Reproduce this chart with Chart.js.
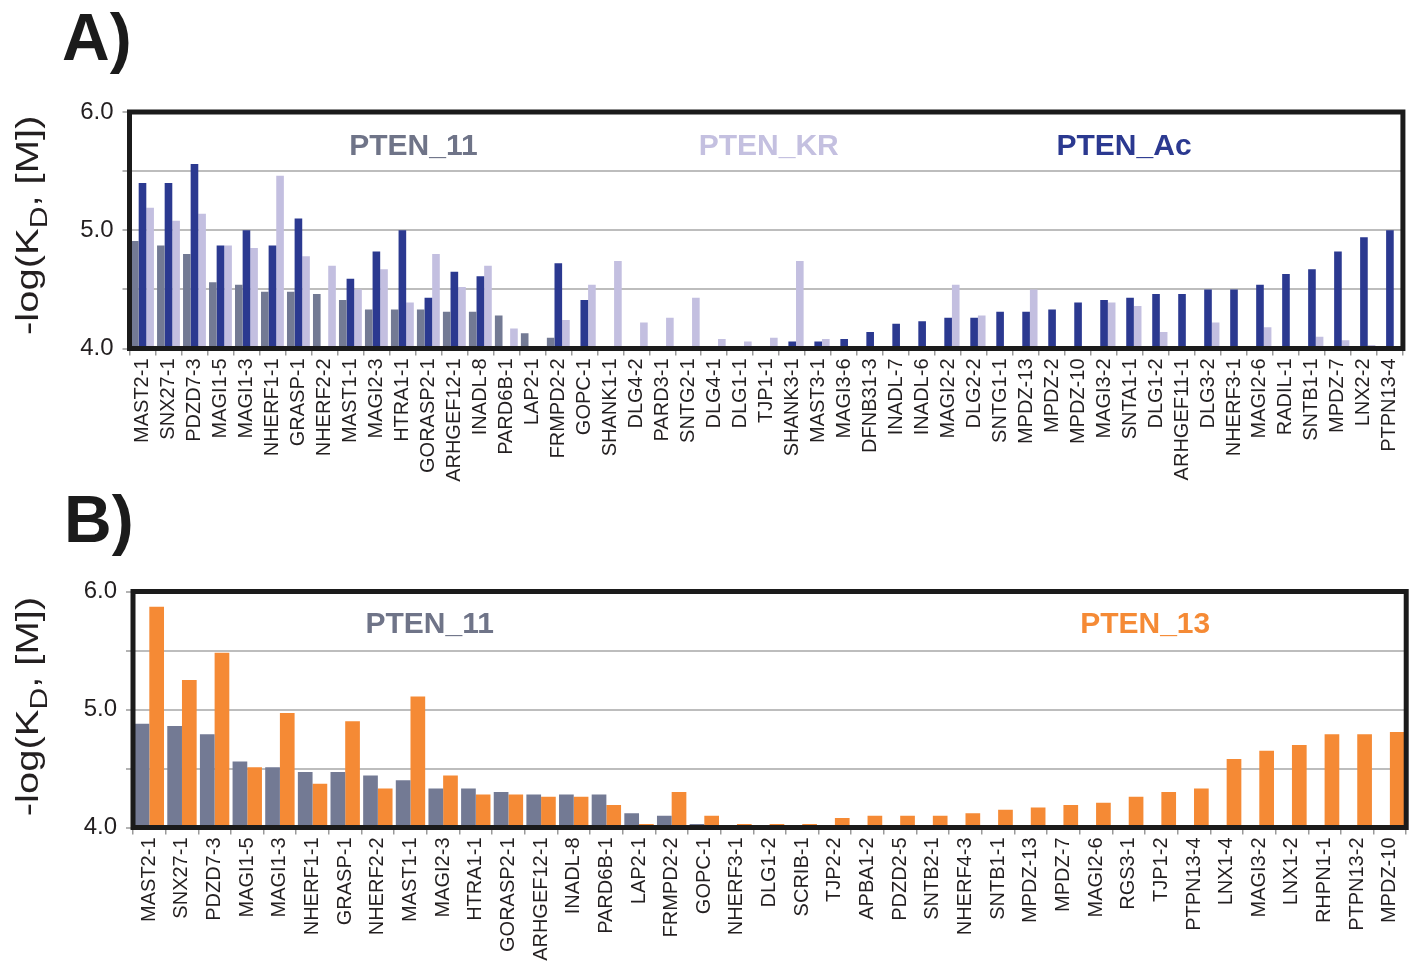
<!DOCTYPE html>
<html><head><meta charset="utf-8">
<script src="https://cdn.jsdelivr.net/npm/chart.js@4.4.1/dist/chart.umd.min.js"></script>
<style>
html,body{margin:0;padding:0;background:#fff;}
#wrap{position:relative;width:1417px;height:968px;overflow:hidden;background:#fff}
canvas{position:absolute;left:0}
</style></head><body>
<div id="wrap">
<canvas id="cA" width="1417" height="490" style="top:0"></canvas>
<canvas id="cB" width="1417" height="478" style="top:490px"></canvas>
</div>
<script>
// ---------- Panel A data ----------
const categoriesA = ['MAST2-1','SNX27-1','PDZD7-3','MAGI1-5','MAGI1-3','NHERF1-1','GRASP-1','NHERF2-2','MAST1-1','MAGI2-3',
  'HTRA1-1','GORASP2-1','ARHGEF12-1','INADL-8','PARD6B-1','LAP2-1','FRMPD2-2','GOPC-1','SHANK1-1','DLG4-2',
  'PARD3-1','SNTG2-1','DLG4-1','DLG1-1','TJP1-1','SHANK3-1','MAST3-1','MAGI3-6','DFNB31-3','INADL-7',
  'INADL-6','MAGI2-2','DLG2-2','SNTG1-1','MPDZ-13','MPDZ-2','MPDZ-10','MAGI3-2','SNTA1-1','DLG1-2',
  'ARHGEF11-1','DLG3-2','NHERF3-1','MAGI2-6','RADIL-1','SNTB1-1','MPDZ-7','LNX2-2','PTPN13-4'];
const pten11A = [4.91,4.87,4.80,4.56,4.54,4.48,4.48,4.46,4.41,4.33,
  4.33,4.33,4.31,4.31,4.28,4.13,4.09,null,null,null,
  null,null,null,null,null,null,null,null,null,null,
  null,null,null,null,null,null,null,null,null,null,
  null,null,null,null,null,null,null,null,null];
const ptenAcA = [5.40,5.40,5.56,4.87,5.00,4.87,5.10,null,4.59,4.82,
  5.00,4.43,4.65,4.61,null,null,4.72,4.41,null,null,
  null,null,null,null,null,4.06,4.06,4.08,4.14,4.21,
  4.23,4.26,4.26,4.31,4.31,4.33,4.39,4.41,4.43,4.46,
  4.46,4.50,4.50,4.54,4.63,4.67,4.82,4.94,5.00];
const ptenKRA = [5.19,5.08,5.14,4.87,4.85,5.46,4.78,4.70,4.50,4.67,
  4.39,4.80,4.52,4.70,4.17,null,4.24,4.54,4.74,4.22,
  4.26,4.43,4.08,4.06,4.09,4.74,4.08,null,null,null,
  null,4.54,4.28,null,4.50,null,null,4.39,4.36,4.14,
  null,4.22,null,4.18,null,4.10,4.07,4.03,null];

// ---------- Panel B data ----------
const categoriesB = ['MAST2-1','SNX27-1','PDZD7-3','MAGI1-5','MAGI1-3','NHERF1-1','GRASP-1','NHERF2-2','MAST1-1','MAGI2-3',
  'HTRA1-1','GORASP2-1','ARHGEF12-1','INADL-8','PARD6B-1','LAP2-1','FRMPD2-2','GOPC-1','NHERF3-1','DLG1-2',
  'SCRIB-1','TJP2-2','APBA1-2','PDZD2-5','SNTB2-1','NHERF4-3','SNTB1-1','MPDZ-13','MPDZ-7','MAGI2-6',
  'RGS3-1','TJP1-2','PTPN13-4','LNX1-4','MAGI3-2','LNX1-2','RHPN1-1','PTPN13-2','MPDZ-10'];
const pten11B = [4.88,4.86,4.79,4.56,4.51,4.47,4.47,4.44,4.40,4.33,
  4.33,4.30,4.28,4.28,4.28,4.12,4.10,4.03,null,null,
  null,null,null,null,null,null,null,null,null,null,
  null,null,null,null,null,null,null,null,null];
const pten13B = [5.87,5.25,5.48,4.51,4.97,4.37,4.90,4.33,5.11,4.44,
  4.28,4.28,4.26,4.26,4.19,4.03,4.30,4.10,4.03,4.03,
  4.03,4.08,4.10,4.10,4.10,4.12,4.15,4.17,4.19,4.21,
  4.26,4.30,4.33,4.58,4.65,4.70,4.79,4.79,4.81];

// ---------- Axis tick labels ----------
const yTickLabels = ['4.0','5.0','6.0'];
const yMin = 4, yMax = 6, yStep = 0.5;

// ---------- Styling ----------
const FF = '"Liberation Sans", Arial, Helvetica, sans-serif';
const C_GRAY = '#737a94', C_NAVY = '#2b3990', C_LAV = '#c3bfe0', C_ORANGE = '#f58a35';

const deco = {
  id: 'deco',
  afterDatasetsDraw(chart, args, o) {
    const {ctx, chartArea: a} = chart;
    ctx.save();
    // frame
    ctx.lineWidth = 5; ctx.strokeStyle = '#1b1b1b';
    ctx.strokeRect(a.left, a.top, a.right - a.left, a.bottom - a.top);
    // series labels (legend)
    ctx.font = 'bold 30px ' + FF;
    ctx.textAlign = 'center'; ctx.textBaseline = 'alphabetic';
    o.labels.forEach(l => {
      const ds = chart.data.datasets[l.ds];
      ctx.fillStyle = l.color;
      ctx.fillText(ds.label, a.left + l.frac * (a.right - a.left), a.top + o.labelDy);
    });
    // panel letter
    ctx.textAlign = 'left'; ctx.fillStyle = '#1b1b1b';
    ctx.font = 'bold 66px ' + FF;
    ctx.fillText(o.letter, o.letterX, o.letterY);
    // y axis title with subscript
    ctx.translate(o.titleX, (a.top + a.bottom) / 2 + o.titleDy);
    ctx.rotate(-Math.PI / 2);
    ctx.scale(1.25, 1);
    ctx.fillStyle = '#231f20';
    const big = '32px ' + FF, small = '24px ' + FF;
    const p1 = '-log(K', p2 = 'D', p3 = ', [M])';
    ctx.font = big; const w1 = ctx.measureText(p1).width, w3 = ctx.measureText(p3).width;
    ctx.font = small; const w2 = ctx.measureText(p2).width;
    let x = -(w1 + w2 + w3) / 2;
    ctx.font = big; ctx.fillText(p1, x, 0); x += w1;
    ctx.font = small; ctx.fillText(p2, x, 9); x += w2;
    ctx.font = big; ctx.fillText(p3, x, 0);
    ctx.restore();
  }
};

function makeOptions(yWidth, xHeight, padTop, padRight, catPct, decoOpts) {
  return {
    responsive: false,
    animation: false,
    events: [],
    layout: { padding: { top: padTop, right: padRight, left: 0, bottom: 0 } },
    datasets: { bar: { categoryPercentage: catPct, barPercentage: 1.0, borderWidth: 0 } },
    plugins: { legend: { display: false }, tooltip: { enabled: false }, deco: decoOpts },
    scales: {
      x: {
        afterFit(s) { s.height = xHeight; },
        ticks: { autoSkip: false, maxRotation: 90, minRotation: 90, padding: 3, color: '#231f20', font: { family: FF, size: 20 } },
        grid: { display: true, drawOnChartArea: false, offset: true, tickLength: 7, color: '#9a9a9a', lineWidth: 1.5 },
        border: { display: false }
      },
      y: {
        min: yMin, max: yMax,
        afterFit(s) { s.width = yWidth; },
        ticks: {
          stepSize: yStep, autoSkip: false, padding: 9, color: '#231f20', font: { family: FF, size: 24 },
          callback: v => { const t = Number(v).toFixed(1); return yTickLabels.includes(t) ? t : ''; }
        },
        grid: { color: '#bdbdbd', lineWidth: 2, tickLength: 7, tickColor: '#9a9a9a', tickWidth: 1.5 },
        border: { display: false }
      }
    }
  };
}

new Chart(document.getElementById('cA'), {
  type: 'bar',
  data: {
    labels: categoriesA,
    datasets: [
      { label: 'PTEN_11', data: pten11A, backgroundColor: C_GRAY },
      { label: 'PTEN_Ac', data: ptenAcA, backgroundColor: C_NAVY },
      { label: 'PTEN_KR', data: ptenKRA, backgroundColor: C_LAV }
    ]
  },
  options: makeOptions(129.5, 141.5, 112, 7.5, 0.88, {
    letter: 'A)', letterX: 62, letterY: 60, titleX: 38, titleDy: -5, labelDy: 43,
    labels: [ { ds: 0, color: '#6f7488', frac: 0.223 }, { ds: 2, color: '#c4c0e0', frac: 0.502 }, { ds: 1, color: C_NAVY, frac: 0.781 } ]
  }),
  plugins: [deco]
});

new Chart(document.getElementById('cB'), {
  type: 'bar',
  data: {
    labels: categoriesB,
    datasets: [
      { label: 'PTEN_11', data: pten11B, backgroundColor: C_GRAY },
      { label: 'PTEN_13', data: pten13B, backgroundColor: C_ORANGE }
    ]
  },
  options: makeOptions(133, 140.5, 101.5, 8.5, 0.9, {
    letter: 'B)', letterX: 64, letterY: 52, titleX: 38, titleDy: -3, labelDy: 41.5,
    labels: [ { ds: 0, color: '#6f7488', frac: 0.233 }, { ds: 1, color: C_ORANGE, frac: 0.795 } ]
  }),
  plugins: [deco]
});
</script>
</body></html>
